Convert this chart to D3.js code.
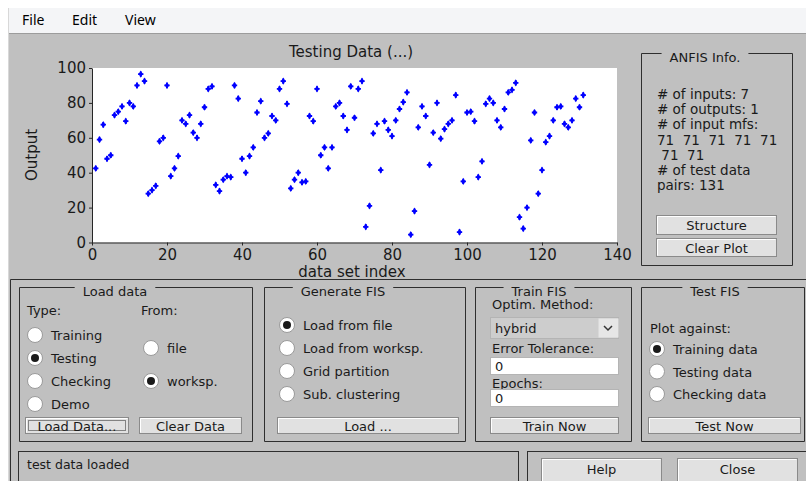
<!DOCTYPE html>
<html>
<head>
	<title>ANFIS Editor</title>
	<style>
		body { margin: 0; background: #fff; }
		svg { display: block; }
		text { font-family: "DejaVu Sans", sans-serif; fill: #1a1a1a; }
	</style>
</head>
<body>
	<div id="gui"></div>
	<script src="https://cdn.jsdelivr.net/npm/d3@7"></script>
	<script>
		// testing data, one value per data set index (1..131)
		var outputValues = [
			42.5, 59, 67.5, 48, 50, 73, 75, 78, 69.5, 80,
			78, 90, 96.5, 92.5, 28, 30, 32.5, 58, 60, 90,
			38, 42.5, 49.5, 70, 68, 73, 63, 60, 68, 77.5,
			88, 89.5, 33, 29.5, 36, 38, 37.5, 90, 82.5, 48,
			40, 49.5, 54.5, 74.5, 81, 60, 62.5, 72.5, 70, 88,
			92.5, 79.5, 31, 36, 40, 34.5, 35, 72.5, 69.5, 88,
			50, 54.5, 42.5, 54.5, 78, 80, 72.5, 64.5, 89.5, 71.5,
			88, 92.5, 9, 21, 62.5, 68, 41.5, 69.5, 64.5, 61,
			70, 76.5, 80.5, 86, 4.5, 18, 66, 78, 72.5, 44.5,
			63, 80, 59.5, 65, 68, 70, 84.5, 6, 35, 74.5,
			75, 69.5, 37.5, 46.5, 79.5, 82.5, 80, 70, 66, 76.5,
			86, 87.5, 91.5, 14.5, 8, 20, 58.5, 74.5, 28, 41.5,
			57.5, 61, 70, 77.5, 78, 68, 66, 70, 82.5, 77.5,
			84.5
		];
		var xTicks = [0, 20, 40, 60, 80, 100, 120, 140];
		var yTicks = [0, 20, 40, 60, 80, 100];
		var menuItems = ['File', 'Edit', 'View'];
		var infoLines = ['# of inputs: 7', '# of outputs: 1', '# of input mfs:',
			'71  71  71  71  71', ' 71  71', '# of test data', 'pairs: 131'];
		var typeOptions = ['Training', 'Testing', 'Checking', 'Demo'];
		var fromOptions = ['file', 'worksp.'];
		var genOptions = ['Load from file', 'Load from worksp.', 'Grid partition', 'Sub. clustering'];
		var plotOptions = ['Training data', 'Testing data', 'Checking data'];

		var W = 806, H = 481;
		var svg = d3.select('#gui').append('svg').attr('width', W).attr('height', H);

		// window background + menu bar
		svg.append('rect').attr('width', W).attr('height', H).attr('fill', '#fff');
		svg.append('rect').attr('x', 8).attr('y', 8).attr('width', W - 8).attr('height', 25).attr('fill', '#f4f5f7');
		svg.append('rect').attr('x', 8).attr('y', 33).attr('width', W - 8).attr('height', H - 33).attr('fill', '#c0c0c0');
		svg.append('line').attr('x1', 8).attr('x2', W).attr('y1', 33.5).attr('y2', 33.5).attr('stroke', '#9c9c9c');
		svg.append('line').attr('x1', 8.5).attr('x2', 8.5).attr('y1', 8).attr('y2', H).attr('stroke', '#d8d8d8');

		var menuX = [22, 72, 125];
		svg.selectAll('.menu').data(menuItems).enter().append('text')
			.attr('x', function (d, i) { return menuX[i]; })
			.attr('y', 25)
			.style('font-family', '"Noto Sans", sans-serif')
			.style('font-size', '14px')
			.style('fill', '#000')
			.text(function (d) { return d; });

		// ---- plot ----
		var x = d3.scaleLinear().domain([0, 140]).range([92, 617]);
		var y = d3.scaleLinear().domain([0, 100]).range([242.5, 68]);

		svg.append('rect').attr('x', x(0)).attr('y', y(100))
			.attr('width', x(140) - x(0)).attr('height', y(0) - y(100)).attr('fill', '#fff');

		var xAxis = svg.append('g').attr('transform', 'translate(0,' + y(0) + ')')
			.call(d3.axisBottom(x).tickValues(xTicks).tickSizeInner(3).tickSizeOuter(0).tickPadding(4));
		var yAxis = svg.append('g').attr('transform', 'translate(' + x(0) + ',0)')
			.call(d3.axisLeft(y).tickValues(yTicks).tickSizeInner(3).tickSizeOuter(0).tickPadding(3));
		[xAxis, yAxis].forEach(function (a) {
			a.selectAll('path, line').attr('stroke', '#262626');
			a.selectAll('text').style('font-family', '"DejaVu Sans", sans-serif')
				.style('font-size', '15px').attr('fill', '#262626');
		});

		var star = d3.symbol().type(d3.symbolCross).size(16);
		var diamond = d3.symbol().type(d3.symbolDiamond).size(15);
		var pts = svg.append('g').selectAll('g').data(outputValues).enter().append('g')
			.attr('transform', function (d, i) { return 'translate(' + x(i + 1) + ',' + y(d) + ')'; });
		pts.append('path').attr('d', star).attr('fill', '#0000ff');
		pts.append('path').attr('d', diamond).attr('fill', '#0000ff');

		svg.append('text').attr('x', 351).attr('y', 57).attr('text-anchor', 'middle')
			.style('font-size', '15px').text('Testing Data (...)');
		svg.append('text').attr('x', 352).attr('y', 277).attr('text-anchor', 'middle')
			.style('font-size', '15px').text('data set index');
		svg.append('text').attr('transform', 'translate(37,155) rotate(-90)').attr('text-anchor', 'middle')
			.style('font-size', '15px').text('Output');

		// ---- gui helpers ----
		function groupBox(x0, y0, x1, y1, title, cx) {
			var t = svg.append('text').attr('x', cx).attr('y', y0 + 8).attr('text-anchor', 'middle')
				.style('font-size', '13px').text(title);
			var w = t.node().getComputedTextLength();
			var g1 = cx - w / 2 - 8, g2 = cx + w / 2 + 8;
			var p = 'M' + g1 + ',' + y0 + 'H' + x0 + 'V' + y1 + 'H' + x1 + 'V' + y0 + 'H' + g2;
			svg.insert('path', 'text').attr('d', p).attr('fill', 'none').attr('stroke', '#2e2e2e');
		}
		function button(x0, y0, x1, y1, label, focus) {
			svg.append('rect').attr('x', x0).attr('y', y0).attr('width', x1 - x0).attr('height', y1 - y0)
				.attr('fill', '#e1e1e1').attr('stroke', '#8a8a8a');
			svg.append('path').attr('d', 'M' + (x0 + 1) + ',' + (y1 - 1) + 'V' + (y0 + 1) + 'H' + (x1 - 1))
				.attr('fill', 'none').attr('stroke', '#fff');
			if (focus) {
				svg.append('rect').attr('x', x0 + 3).attr('y', y0 + 3).attr('width', x1 - x0 - 6).attr('height', y1 - y0 - 6)
					.attr('fill', 'none').attr('stroke', '#222').attr('stroke-dasharray', '1,1');
			}
			svg.append('text').attr('x', (x0 + x1) / 2).attr('y', (y0 + y1) / 2 + 5).attr('text-anchor', 'middle')
				.style('font-size', '13px').text(label);
		}
		function radio(cx, cy, label, on) {
			svg.append('circle').attr('cx', cx).attr('cy', cy).attr('r', 7.5)
				.attr('fill', '#fff').attr('stroke', '#9a9a9a');
			if (on) svg.append('circle').attr('cx', cx).attr('cy', cy).attr('r', 4).attr('fill', '#1a1a1a');
			svg.append('text').attr('x', cx + 16).attr('y', cy + 5).style('font-size', '13px').text(label);
		}
		function label(x0, y0, s, size) {
			svg.append('text').attr('x', x0).attr('y', y0).style('font-size', (size || 13) + 'px').text(s);
		}

		// ---- ANFIS info ----
		groupBox(641.5, 53.5, 792.5, 265.5, 'ANFIS Info.', 705);
		infoLines.forEach(function (s, i) {
			svg.append('text').attr('x', 657).attr('y', 99 + i * 15.2).attr('xml:space', 'preserve')
				.style('font-size', '13.5px').text(s);
		});
		button(656.5, 215.5, 776.5, 234.5, 'Structure');
		button(656.5, 238.5, 776.5, 256.5, 'Clear Plot');

		// ---- lower panel ----
		svg.append('path').attr('d', 'M10.5,' + H + 'V279.5H' + W).attr('fill', 'none').attr('stroke', '#2e2e2e');

		groupBox(19.5, 287.5, 252.5, 441.5, 'Load data', 115);
		label(27, 315, 'Type:');
		label(141, 315, 'From:');
		typeOptions.forEach(function (s, i) { radio(35, 335 + i * 23, s, i === 1); });
		fromOptions.forEach(function (s, i) { radio(151, 348 + i * 33, s, i === 1); });
		button(25.5, 417.5, 128.5, 433.5, 'Load Data...', true);
		button(139.5, 417.5, 241.5, 433.5, 'Clear Data');

		groupBox(264.5, 287.5, 465.5, 441.5, 'Generate FIS', 343);
		genOptions.forEach(function (s, i) { radio(287, 325 + i * 23, s, i === 0); });
		button(277.5, 417.5, 458.5, 433.5, 'Load ...');

		groupBox(475.5, 287.5, 631.5, 441.5, 'Train FIS', 539);
		label(492, 309, 'Optim. Method:');
		svg.append('rect').attr('x', 490.5).attr('y', 317.5).attr('width', 128).attr('height', 21)
			.attr('fill', '#cdcdcd').attr('stroke', '#b4b4b4');
		svg.append('rect').attr('x', 598.5).attr('y', 318.5).attr('width', 20).attr('height', 19).attr('fill', '#e6e6e6');
		svg.append('path').attr('d', 'M604,326 l4,4 l4,-4').attr('fill', 'none').attr('stroke', '#333').attr('stroke-width', 1.5);
		label(495, 333, 'hybrid');
		label(492, 353, 'Error Tolerance:');
		svg.append('rect').attr('x', 490.5).attr('y', 357.5).attr('width', 128).attr('height', 17).attr('fill', '#fff').attr('stroke', '#b4b4b4');
		label(495, 371, '0');
		label(492, 388, 'Epochs:');
		svg.append('rect').attr('x', 490.5).attr('y', 389.5).attr('width', 128).attr('height', 17).attr('fill', '#fff').attr('stroke', '#b4b4b4');
		label(495, 403, '0');
		button(490.5, 417.5, 618.5, 433.5, 'Train Now');

		groupBox(641.5, 287.5, 804.5, 441.5, 'Test FIS', 715);
		label(650, 333, 'Plot against:');
		plotOptions.forEach(function (s, i) { radio(657, 349 + i * 22.5, s, i === 0); });
		button(648.5, 417.5, 800.5, 433.5, 'Test Now');

		// status + help / close
		svg.append('rect').attr('x', 18.5).attr('y', 451.5).attr('width', 500).attr('height', 40)
			.attr('fill', 'none').attr('stroke', '#2e2e2e');
		label(27, 469, 'test data loaded', 12.5);
		svg.append('rect').attr('x', 527.5).attr('y', 451.5).attr('width', 290).attr('height', 40)
			.attr('fill', 'none').attr('stroke', '#2e2e2e');
		button(541.5, 458.5, 661.5, 490, 'Help');
		button(677.5, 458.5, 797.5, 490, 'Close');
		svg.selectAll('text').filter(function () { return this.textContent === 'Help' || this.textContent === 'Close'; })
			.attr('y', 474);
	</script>
</body>
</html>
